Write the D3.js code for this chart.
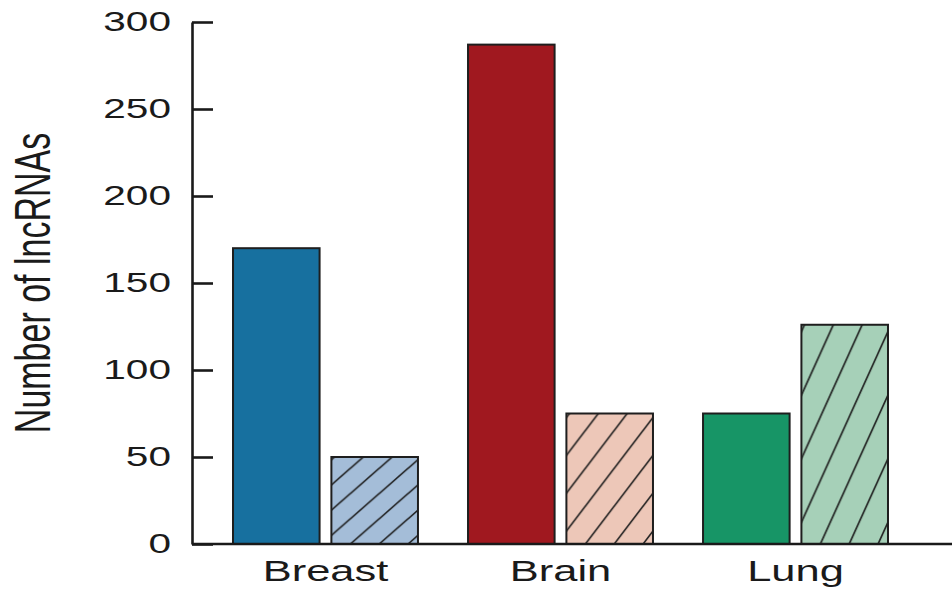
<!DOCTYPE html>
<html><head><meta charset="utf-8">
<script src="https://cdn.jsdelivr.net/npm/d3@7"></script>
<style>body{margin:0;background:#fff}</style></head>
<body><svg id="c" width="952" height="589"></svg>
<script>
const categories = ["Breast", "Brain", "Lung"];
const series = ["solid", "hatched"];
const solidValues = [170, 287, 75];
const hatchedValues = [50, 75, 126];
const yTicks = [0, 50, 100, 150, 200, 250, 300];
const solidColors = ["#17709f", "#a0181f", "#179566"];
const hatchColors = ["#a4bdd8", "#edc7b8", "#a6d0b8"];
const yTitle = "Number of lncRNAs";

const svg = d3.select("#c");
const font = "'Liberation Sans', Arial, sans-serif";
const sx = 1.45;

const y = d3.scaleLinear().domain([0, 300]).range([544, 22]);
const x0 = d3.scaleBand().domain(categories).range([192, 929]).paddingInner(0.213).paddingOuter(0.1745);
const x1 = d3.scaleBand().domain(series).range([0, x0.bandwidth()]).paddingInner(0.12);

const defs = svg.append("defs");

const data = [];
categories.forEach((c, i) => {
  data.push({cat: c, s: "solid", v: solidValues[i], i});
  data.push({cat: c, s: "hatched", v: hatchedValues[i], i});
});

data.forEach((d, k) => {
  if (d.s !== "hatched") return;
  const bx = x0(d.cat) + x1(d.s);
  const bw = x1.bandwidth();
  const bh = y(0) - y(d.v);
  const W = bw / 3, H = bh * 0.29;
  const p = defs.append("pattern").attr("id", "hatch" + k)
    .attr("patternUnits", "userSpaceOnUse")
    .attr("x", bx + 19).attr("y", y(0))
    .attr("width", W).attr("height", H);
  p.append("rect").attr("width", W).attr("height", H).attr("fill", hatchColors[d.i]);
  p.append("path")
    .attr("d", `M${-2*W},${2*H}L${W},${-H}M${-W},${2*H}L${2*W},${-H}M0,${2*H}L${3*W},${-H}`)
    .attr("stroke", "#1c1c1c").attr("stroke-width", 1.6).attr("fill", "none");
});

svg.append("g").selectAll("rect").data(data).join("rect")
  .attr("x", d => x0(d.cat) + x1(d.s))
  .attr("y", d => y(d.v))
  .attr("width", x1.bandwidth())
  .attr("height", d => y(0) - y(d.v))
  .attr("fill", (d, k) => d.s === "solid" ? solidColors[d.i] : `url(#hatch${k})`)
  .attr("stroke", "#1e1e1e")
  .attr("stroke-width", 2);

// y axis
const ax = svg.append("g").attr("transform", "translate(192,0)")
  .call(d3.axisLeft(y).tickValues(yTicks).tickSize(-21).tickSizeOuter(0).tickPadding(21));
ax.select(".domain").attr("stroke", "#1a1a1a").attr("stroke-width", 2.6);
ax.selectAll(".tick line").attr("stroke", "#1a1a1a").attr("stroke-width", 2.6);
ax.selectAll(".tick text")
  .attr("font-family", font).attr("font-size", 28).attr("fill", "#1a1a1a")
  .attr("x", -21 / sx)
  .attr("transform", `scale(${sx},1)`);

// x baseline
svg.append("line").attr("x1", 192).attr("x2", 952).attr("y1", y(0)).attr("y2", y(0))
  .attr("stroke", "#1a1a1a").attr("stroke-width", 2.6);

// category labels
svg.append("g").selectAll("text").data(categories).join("text")
  .attr("transform", d => `translate(${x0(d) + x0.bandwidth() / 2},581) scale(${sx},1)`)
  .attr("text-anchor", "middle")
  .attr("font-family", font).attr("font-size", 30).attr("fill", "#1a1a1a")
  .text(d => d);

// y title
svg.append("text")
  .attr("transform", `translate(50,283) scale(${sx},1) rotate(-90)`)
  .attr("text-anchor", "middle")
  .attr("font-family", font).attr("font-size", 34).attr("fill", "#1a1a1a")
  .text(yTitle);
</script></body></html>
